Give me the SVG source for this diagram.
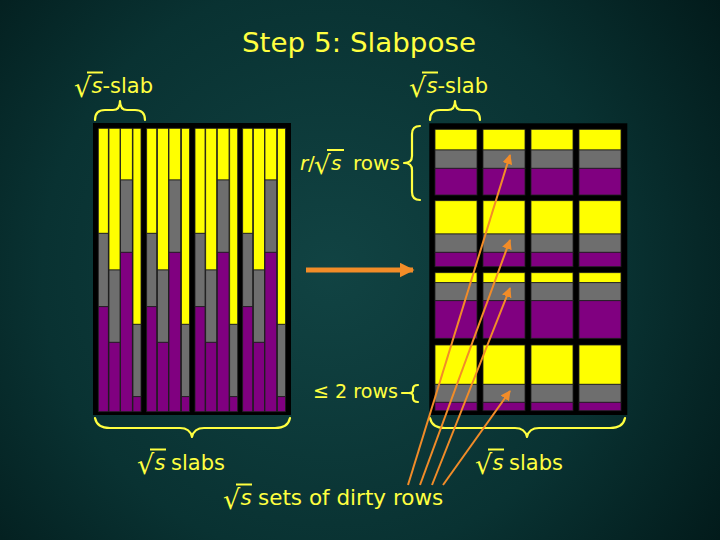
<svg xmlns="http://www.w3.org/2000/svg" width="720" height="540" viewBox="0 0 720 540">
<defs>
<radialGradient id="bg" cx="330" cy="270" r="480" gradientUnits="userSpaceOnUse">
<stop offset="0" stop-color="#114343"/>
<stop offset="0.6" stop-color="#093232"/>
<stop offset="1" stop-color="#021a1a"/>
</radialGradient>
<marker id="ah" viewBox="0 0 10 10" refX="9" refY="5" markerWidth="5" markerHeight="5" orient="auto" markerUnits="strokeWidth">
<path d="M0,0 L10,5 L0,10 z" fill="#F28C28"/>
</marker>
<marker id="ahBig" viewBox="0 0 10 10" refX="9" refY="5" markerWidth="3" markerHeight="3" orient="auto" markerUnits="strokeWidth">
<path d="M0,0 L10,5 L0,10 z" fill="#F28C28"/>
</marker>
</defs>
<style>
.t{font-family:"DejaVu Sans","Liberation Sans",sans-serif;fill:#FFFF40}
.i{font-style:italic}
.y{fill:#FFFF00;stroke:#202020;stroke-width:0.8}
.g{fill:#6E6E6E;stroke:#202020;stroke-width:0.8}
.p{fill:#800080;stroke:#202020;stroke-width:0.8}
.br{fill:none;stroke:#FFFF40;stroke-width:2.2;stroke-linecap:round;stroke-linejoin:round}
.ov{stroke:#FFFF40;stroke-width:2}
.ar{fill:none;stroke:#F28C28;stroke-width:2}
</style>
<rect width="720" height="540" fill="url(#bg)"/>

<g id="title"><text class="t" x="242" y="52" font-size="27" textLength="234" lengthAdjust="spacingAndGlyphs">Step 5: Slabpose</text></g>

<g id="left-grid">
<rect x="93" y="123" width="198" height="292" fill="#000"/>
<g id="lslab1" transform="translate(98.3,0)">
<rect class="y" x="0" y="128.3" width="10" height="105"/><rect class="g" x="0" y="233.3" width="10" height="73.4"/><rect class="p" x="0" y="306.7" width="10" height="105"/>
<rect class="y" x="10.7" y="128.3" width="11" height="141.7"/><rect class="g" x="10.7" y="270" width="11" height="72.3"/><rect class="p" x="10.7" y="342.3" width="11" height="69.4"/>
<rect class="y" x="22.3" y="128.3" width="11.7" height="51.7"/><rect class="g" x="22.3" y="180" width="11.7" height="72.3"/><rect class="p" x="22.3" y="252.3" width="11.7" height="159.4"/>
<rect class="y" x="34.7" y="128.3" width="8" height="196"/><rect class="g" x="34.7" y="324.3" width="8" height="72.4"/><rect class="p" x="34.7" y="396.7" width="8" height="15"/>
</g>
<g id="lslab2" transform="translate(146.7,0)">
<rect class="y" x="0" y="128.3" width="10" height="105"/><rect class="g" x="0" y="233.3" width="10" height="73.4"/><rect class="p" x="0" y="306.7" width="10" height="105"/>
<rect class="y" x="10.7" y="128.3" width="11" height="141.7"/><rect class="g" x="10.7" y="270" width="11" height="72.3"/><rect class="p" x="10.7" y="342.3" width="11" height="69.4"/>
<rect class="y" x="22.3" y="128.3" width="11.7" height="51.7"/><rect class="g" x="22.3" y="180" width="11.7" height="72.3"/><rect class="p" x="22.3" y="252.3" width="11.7" height="159.4"/>
<rect class="y" x="34.7" y="128.3" width="8" height="196"/><rect class="g" x="34.7" y="324.3" width="8" height="72.4"/><rect class="p" x="34.7" y="396.7" width="8" height="15"/>
</g>
<g id="lslab3" transform="translate(195,0)">
<rect class="y" x="0" y="128.3" width="10" height="105"/><rect class="g" x="0" y="233.3" width="10" height="73.4"/><rect class="p" x="0" y="306.7" width="10" height="105"/>
<rect class="y" x="10.7" y="128.3" width="11" height="141.7"/><rect class="g" x="10.7" y="270" width="11" height="72.3"/><rect class="p" x="10.7" y="342.3" width="11" height="69.4"/>
<rect class="y" x="22.3" y="128.3" width="11.7" height="51.7"/><rect class="g" x="22.3" y="180" width="11.7" height="72.3"/><rect class="p" x="22.3" y="252.3" width="11.7" height="159.4"/>
<rect class="y" x="34.7" y="128.3" width="8" height="196"/><rect class="g" x="34.7" y="324.3" width="8" height="72.4"/><rect class="p" x="34.7" y="396.7" width="8" height="15"/>
</g>
<g id="lslab4" transform="translate(242.7,0)">
<rect class="y" x="0" y="128.3" width="10" height="105"/><rect class="g" x="0" y="233.3" width="10" height="73.4"/><rect class="p" x="0" y="306.7" width="10" height="105"/>
<rect class="y" x="10.7" y="128.3" width="11" height="141.7"/><rect class="g" x="10.7" y="270" width="11" height="72.3"/><rect class="p" x="10.7" y="342.3" width="11" height="69.4"/>
<rect class="y" x="22.3" y="128.3" width="11.7" height="51.7"/><rect class="g" x="22.3" y="180" width="11.7" height="72.3"/><rect class="p" x="22.3" y="252.3" width="11.7" height="159.4"/>
<rect class="y" x="34.7" y="128.3" width="8" height="196"/><rect class="g" x="34.7" y="324.3" width="8" height="72.4"/><rect class="p" x="34.7" y="396.7" width="8" height="15"/>
</g>
</g>

<g id="right-grid">
<rect x="429.3" y="123.3" width="198" height="291.7" fill="#000"/>
<g id="rcol1" transform="translate(435,0)">
<rect class="y" x="0" y="129.3" width="42" height="20.7"/><rect class="g" x="0" y="150" width="42" height="18.3"/><rect class="p" x="0" y="168.3" width="42" height="26.7"/>
<rect class="y" x="0" y="200.7" width="42" height="33.3"/><rect class="g" x="0" y="234" width="42" height="18.3"/><rect class="p" x="0" y="252.3" width="42" height="14.4"/>
<rect class="y" x="0" y="272.7" width="42" height="10"/><rect class="g" x="0" y="282.7" width="42" height="18"/><rect class="p" x="0" y="300.7" width="42" height="37.6"/>
<rect class="y" x="0" y="345" width="42" height="39.3"/><rect class="g" x="0" y="384.3" width="42" height="18"/><rect class="p" x="0" y="402.3" width="42" height="8.4"/>
</g>
<g id="rcol2" transform="translate(483,0)">
<rect class="y" x="0" y="129.3" width="42" height="20.7"/><rect class="g" x="0" y="150" width="42" height="18.3"/><rect class="p" x="0" y="168.3" width="42" height="26.7"/>
<rect class="y" x="0" y="200.7" width="42" height="33.3"/><rect class="g" x="0" y="234" width="42" height="18.3"/><rect class="p" x="0" y="252.3" width="42" height="14.4"/>
<rect class="y" x="0" y="272.7" width="42" height="10"/><rect class="g" x="0" y="282.7" width="42" height="18"/><rect class="p" x="0" y="300.7" width="42" height="37.6"/>
<rect class="y" x="0" y="345" width="42" height="39.3"/><rect class="g" x="0" y="384.3" width="42" height="18"/><rect class="p" x="0" y="402.3" width="42" height="8.4"/>
</g>
<g id="rcol3" transform="translate(531,0)">
<rect class="y" x="0" y="129.3" width="42" height="20.7"/><rect class="g" x="0" y="150" width="42" height="18.3"/><rect class="p" x="0" y="168.3" width="42" height="26.7"/>
<rect class="y" x="0" y="200.7" width="42" height="33.3"/><rect class="g" x="0" y="234" width="42" height="18.3"/><rect class="p" x="0" y="252.3" width="42" height="14.4"/>
<rect class="y" x="0" y="272.7" width="42" height="10"/><rect class="g" x="0" y="282.7" width="42" height="18"/><rect class="p" x="0" y="300.7" width="42" height="37.6"/>
<rect class="y" x="0" y="345" width="42" height="39.3"/><rect class="g" x="0" y="384.3" width="42" height="18"/><rect class="p" x="0" y="402.3" width="42" height="8.4"/>
</g>
<g id="rcol4" transform="translate(579,0)">
<rect class="y" x="0" y="129.3" width="42" height="20.7"/><rect class="g" x="0" y="150" width="42" height="18.3"/><rect class="p" x="0" y="168.3" width="42" height="26.7"/>
<rect class="y" x="0" y="200.7" width="42" height="33.3"/><rect class="g" x="0" y="234" width="42" height="18.3"/><rect class="p" x="0" y="252.3" width="42" height="14.4"/>
<rect class="y" x="0" y="272.7" width="42" height="10"/><rect class="g" x="0" y="282.7" width="42" height="18"/><rect class="p" x="0" y="300.7" width="42" height="37.6"/>
<rect class="y" x="0" y="345" width="42" height="39.3"/><rect class="g" x="0" y="384.3" width="42" height="18"/><rect class="p" x="0" y="402.3" width="42" height="8.4"/>
</g>
</g>

<g id="braces">
<path class="br" d="M95,120 Q95,110 105,110 L113,110 Q120,110 120,101 Q120,110 127,110 L135,110 Q145,110 145,120"/>
<path class="br" d="M430,120 Q430,110 440,110 L448,110 Q455,110 455,101 Q455,110 462,110 L470,110 Q480,110 480,120"/>
<path class="br" d="M420,126 Q412,126 412,134 L412,156 Q412,163 404,163 Q412,163 412,170 L412,192 Q412,200 420,200"/>
<path class="br" d="M402,393 L408,393 M418,385 Q413,385 413,389 L413,390 Q413,393 409,393 Q413,393 413,396 L413,398 Q413,402 418,402"/>
<path class="br" d="M95,418 Q97,428 110,428 L180,428 Q190,428 192,437 Q194,428 204,428 L275,428 Q288,428 290,418"/>
<path class="br" d="M430,418 Q432,428 445,428 L515,428 Q525,428 527,437 Q529,428 539,428 L610,428 Q623,428 625,418"/>
</g>

<g id="labels">
<text class="t" y="93" font-size="21"><tspan x="74" font-size="27" dy="4">√</tspan><tspan x="91.5" dy="-4" class="i">s</tspan><tspan>-slab</tspan></text>
<line class="ov" x1="87" y1="72.5" x2="103" y2="72.5"/>
<text class="t" y="93" font-size="21"><tspan x="409" font-size="27" dy="4">√</tspan><tspan x="426.5" dy="-4" class="i">s</tspan><tspan>-slab</tspan></text>
<line class="ov" x1="422" y1="72.5" x2="438" y2="72.5"/>

<text class="t" y="170" font-size="20"><tspan x="300" class="i">r</tspan><tspan x="308">/</tspan><tspan x="314" font-size="26" dy="4">√</tspan><tspan x="331" dy="-4" class="i">s</tspan><tspan x="353">rows</tspan></text>
<line class="ov" x1="327" y1="150" x2="344" y2="150"/>

<text class="t" x="313" y="398" font-size="20" textLength="85" lengthAdjust="spacingAndGlyphs">≤ 2 rows</text>

<text class="t" y="470" font-size="21"><tspan x="137" font-size="27" dy="4">√</tspan><tspan x="154.5" dy="-4" class="i">s</tspan><tspan x="171">slabs</tspan></text>
<line class="ov" x1="150" y1="449.5" x2="166" y2="449.5"/>

<text class="t" y="470" font-size="21"><tspan x="475" font-size="27" dy="4">√</tspan><tspan x="492.5" dy="-4" class="i">s</tspan><tspan x="509">slabs</tspan></text>
<line class="ov" x1="488" y1="449.5" x2="504" y2="449.5"/>

<text class="t" y="505" font-size="21.5"><tspan x="223" font-size="27" dy="4">√</tspan><tspan x="240.5" dy="-4" class="i">s</tspan><tspan x="258">sets of dirty rows</tspan></text>
<line class="ov" x1="236" y1="484.5" x2="252" y2="484.5"/>
</g>

<g id="connectors">
<line x1="306" y1="270" x2="413" y2="270" stroke="#F28C28" stroke-width="5" marker-end="url(#ahBig)"/>
<line class="ar" x1="408" y1="485" x2="510" y2="155" marker-end="url(#ah)"/>
<line class="ar" x1="420" y1="485" x2="510" y2="240" marker-end="url(#ah)"/>
<line class="ar" x1="432" y1="485" x2="510" y2="288" marker-end="url(#ah)"/>
<line class="ar" x1="443" y1="485" x2="510" y2="391" marker-end="url(#ah)"/>
</g>
</svg>
